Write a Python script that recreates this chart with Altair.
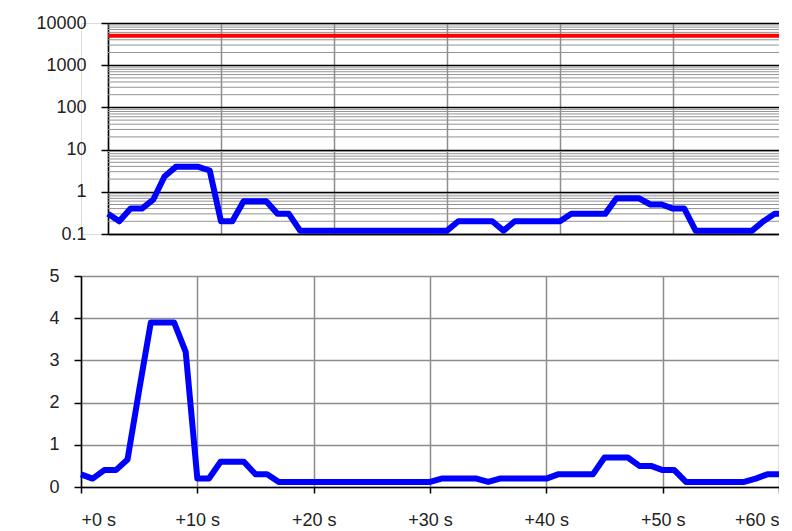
import altair as alt
import pandas as pd

# ---- data ----
seconds = list(range(61))
values = [0.3, 0.2, 0.4, 0.4, 0.65, 2.3, 3.9, 3.9, 3.9, 3.2,
          0.2, 0.2, 0.6, 0.6, 0.6, 0.3, 0.3, 0.12, 0.12, 0.12,
          0.12, 0.12, 0.12, 0.12, 0.12, 0.12, 0.12, 0.12, 0.12, 0.12,
          0.12, 0.2, 0.2, 0.2, 0.2, 0.12, 0.2, 0.2, 0.2, 0.2,
          0.2, 0.3, 0.3, 0.3, 0.3, 0.7, 0.7, 0.7, 0.5, 0.5,
          0.4, 0.4, 0.12, 0.12, 0.12, 0.12, 0.12, 0.12, 0.2, 0.3, 0.3]
threshold = [5000]
x_ticks = [0, 10, 20, 30, 40, 50, 60]
log_ticks = [0.1, 1, 10, 100, 1000, 10000]
log_minor = [0.2, 0.3, 0.4, 0.5, 0.6, 0.7, 0.8, 0.9,
             2, 3, 4, 5, 6, 7, 8, 9,
             20, 30, 40, 50, 60, 70, 80, 90,
             200, 300, 400, 500, 600, 700, 800, 900,
             2000, 3000, 4000, 5000, 6000, 7000, 8000, 9000]
lin_ticks = [0, 1, 2, 3, 4, 5]

df = pd.DataFrame({"t": seconds, "v": values})
df_minor = pd.DataFrame({"m": log_minor})
df_thr = pd.DataFrame({"thr": threshold})

FONT = "Liberation Sans"
FS = 18
GRAY = "#8c8c8c"
SHIFT = 27  # top panel's plot starts further right than the bottom one

# ---------------- top (log) panel ----------------
ylog = alt.Scale(type="log", domain=[0.1, 10000], nice=False)
xtop = alt.Scale(domain=[0, 60], nice=False, zero=False, range=[SHIFT, 705])

top_x_axis = alt.Axis(title=None, labels=False, ticks=False, values=x_ticks,
                      grid=True, gridColor=GRAY, gridWidth=1.5,
                      domainColor="black", domainWidth=1.5)


def top_y_axis():
    return alt.Axis(title=None, values=log_ticks, format="~g",
                    grid=True, gridColor="black", gridWidth=1.5,
                    tickColor="black", tickSize=7, tickWidth=1.5,
                    domainColor="black", domainWidth=1.5, offset=-SHIFT,
                    labelPadding=15, labelFont=FONT, labelFontSize=FS,
                    labelColor="#222")


minor = alt.Chart(df_minor).mark_rule(color="#939393", strokeWidth=1).encode(
    x=alt.datum(0, scale=xtop),
    x2=alt.datum(60),
    y=alt.Y("m:Q", scale=ylog, axis=top_y_axis()),
)
red = alt.Chart(df_thr).mark_rule(color="#ff0000", strokeWidth=4).encode(
    x=alt.datum(0, scale=xtop),
    x2=alt.datum(60),
    y=alt.Y("thr:Q", scale=ylog, axis=top_y_axis()),
)
blue_top = alt.Chart(df).mark_line(color="#0000ff", strokeWidth=6,
                                   strokeJoin="round").encode(
    x=alt.X("t:Q", scale=xtop, axis=top_x_axis),
    y=alt.Y("v:Q", scale=ylog, axis=top_y_axis()),
)
top = alt.layer(minor, red, blue_top).properties(width=705, height=211)

# ---------------- bottom (linear) panel ----------------
bottom = alt.Chart(df).mark_line(color="#0000ff", strokeWidth=6,
                                 strokeJoin="round").encode(
    x=alt.X("t:Q", scale=alt.Scale(domain=[0, 60], nice=False, zero=False),
            axis=alt.Axis(title=None, values=x_ticks,
                          labelExpr="'+' + datum.value + ' s'",
                          grid=True, gridColor=GRAY, gridWidth=1.5,
                          tickColor="black", tickSize=6, tickWidth=1.5,
                          domainColor="black", domainWidth=1.5,
                          labelPadding=18, labelFont=FONT, labelFontSize=FS,
                          labelColor="#222")),
    y=alt.Y("v:Q", scale=alt.Scale(domain=[0, 5], nice=False),
            axis=alt.Axis(title=None, values=lin_ticks,
                          grid=True, gridColor=GRAY, gridWidth=1.5,
                          tickColor="black", tickSize=7, tickWidth=1.5,
                          domainColor="black", domainWidth=1.5,
                          labelPadding=15, labelFont=FONT, labelFontSize=FS,
                          labelColor="#222", minExtent=72, maxExtent=72)),
).properties(width=698, height=211)

# negative right padding clips the last "+60 s" label at the page edge,
# as in the reference, instead of widening the page
chart = alt.vconcat(top, bottom, spacing=22).properties(
    padding={"left": 0, "top": 5, "right": -11, "bottom": 0},
).configure_view(stroke=None).configure(background="white")

chart.save("out.html", embed_options={"renderer": "svg", "actions": False})
